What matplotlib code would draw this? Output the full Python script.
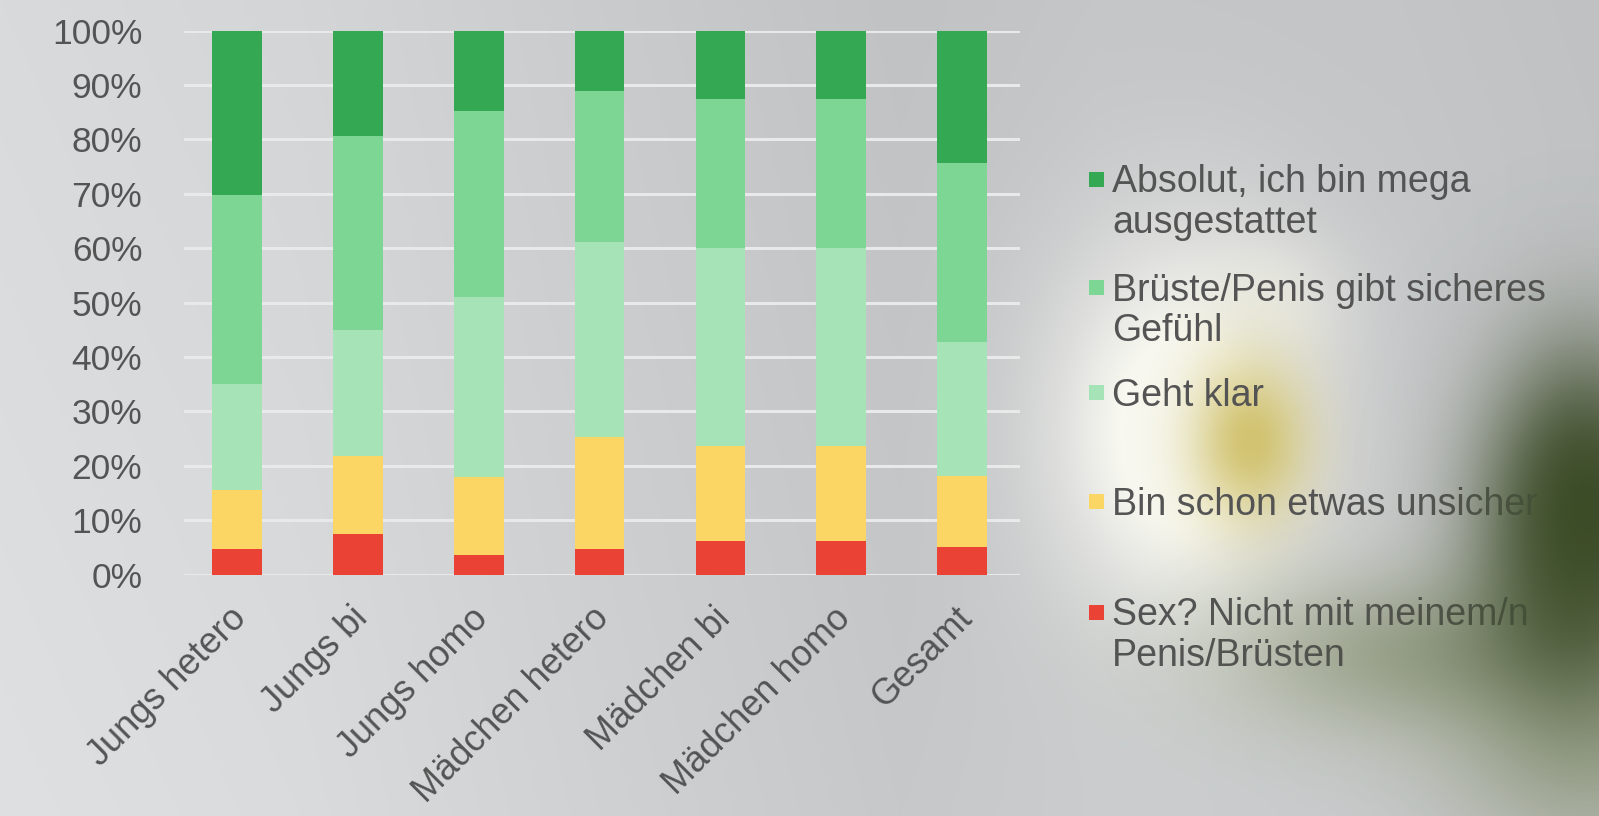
import numpy as np
import matplotlib
matplotlib.use("Agg")
import matplotlib.pyplot as plt
from matplotlib.patches import Rectangle
from matplotlib.transforms import ScaledTranslation

# ---------------- data ----------------
categories = ["Jungs hetero", "Jungs bi", "Jungs homo", "Mädchen hetero",
              "Mädchen bi", "Mädchen homo", "Gesamt"]
series_labels = ["Absolut, ich bin mega\nausgestattet",
                 "Brüste/Penis gibt sicheres\nGefühl",
                 "Geht klar",
                 "Bin schon etwas unsicher",
                 "Sex? Nicht mit meinem/n\nPenis/Brüsten"]
sex_nicht = [4.6, 7.4, 3.5, 4.6, 6.1, 6.1, 5.1]
unsicher = [10.9, 14.3, 14.4, 20.6, 17.6, 17.6, 13.0]
geht_klar = [19.5, 23.3, 33.2, 35.9, 36.3, 36.3, 24.6]
sicheres = [34.8, 35.7, 34.2, 27.8, 27.5, 27.5, 32.9]
absolut = [30.2, 19.3, 14.7, 11.1, 12.5, 12.5, 24.4]
y_ticks = [0, 10, 20, 30, 40, 50, 60, 70, 80, 90, 100]

colors = {"absolut": "#34a853", "sicheres": "#7dd693", "geht": "#a6e4b7",
          "unsicher": "#fcd665", "nicht": "#ea4335"}
text_col = "#545454"

plt.rcParams['font.family'] = ['Liberation Sans', 'DejaVu Sans']

W, H = 1599, 816
fig = plt.figure(figsize=(W / 100, H / 100), dpi=100)

# ---------------- background (decorative photo-like gradient) ----------------
xx, yy = np.meshgrid(np.arange(W), np.arange(H))
base = np.interp(xx, [0, 300, 600, 900, 1100, 1400, 1599],
                 [219, 214, 204, 195, 199, 198, 194]).astype(float)
base += 6 * (yy / H)
bg = np.stack([base - 3, base - 1, base + 1], axis=-1)

def blob(cx, cy, sx, sy):
    return np.exp(-(((xx - cx) / sx) ** 2 + ((yy - cy) / sy) ** 2) / 2)

def mix(img, color, w):
    c = np.array(color, float)
    return img * (1 - w[..., None]) + c * w[..., None]

bg = mix(bg, (250, 250, 243), 0.97 * np.clip(1.3 * blob(1185, 430, 90, 130), 0, 1))
bg = mix(bg, (238, 238, 228), 0.6 * blob(1270, 300, 50, 45))
bg = mix(bg, (200, 182, 80), 0.8 * blob(1250, 440, 42, 58))
bg = mix(bg, (160, 172, 125), 0.35 * blob(1380, 660, 140, 60))
bg = mix(bg, (120, 135, 85), 0.4 * blob(1590, 740, 110, 90))
bg = mix(bg, (45, 60, 25), 0.92 * blob(1585, 510, 55, 100))
bg = np.clip(bg, 0, 255) / 255.0

bg_ax = fig.add_axes([0, 0, 1, 1], zorder=0)
bg_ax.imshow(bg, aspect='auto', extent=(0, W, H, 0), interpolation='bilinear')
bg_ax.set_xlim(0, W)
bg_ax.set_ylim(H, 0)
bg_ax.axis('off')

# ---------------- main chart ----------------
ax = fig.add_axes([184 / W, 1 - 574.5 / H, (1020 - 184) / W, (574.5 - 30.6) / H], zorder=2)
ax.patch.set_alpha(0)
x = np.arange(len(categories))
bw = 0.41
stack = [(sex_nicht, colors["nicht"]), (unsicher, colors["unsicher"]),
         (geht_klar, colors["geht"]), (sicheres, colors["sicheres"]),
         (absolut, colors["absolut"])]
bottom = np.zeros(len(categories))
for vals, col in stack:
    ax.bar(x, vals, bw, bottom=bottom, color=col, linewidth=0, zorder=3)
    bottom += np.array(vals)

ax.set_xlim(-0.44, 6.48)
ax.set_ylim(0, 100)
ax.set_yticks(y_ticks)
ax.set_yticklabels([f"{v}%" for v in y_ticks], fontsize=25.5, color=text_col)
ax.yaxis.grid(True, color="#e9e9e9", linewidth=2.2, zorder=1)
ax.set_axisbelow(True)
for s in ax.spines.values():
    s.set_visible(False)
ax.tick_params(axis='both', length=0)
ax.tick_params(axis='y', pad=30)
ax.set_xticks(x)
ax.set_xticklabels(categories, rotation=45, ha='right', va='top',
                   rotation_mode='anchor', fontsize=26, color=text_col)
ax.tick_params(axis='x', pad=19)
shift = ScaledTranslation(-8 / 100, 0, fig.dpi_scale_trans)
for lbl in ax.get_xticklabels():
    lbl.set_transform(lbl.get_transform() + shift)

# ---------------- legend (manual, to match layout) ----------------
leg_colors = [colors["absolut"], colors["sicheres"], colors["geht"],
              colors["unsicher"], colors["nicht"]]
leg_y = [179.5, 287.6, 392.7, 501.8, 612.0]
for lab, col, yc in zip(series_labels, leg_colors, leg_y):
    sq = 15
    fig.patches.append(Rectangle(((1096 - sq / 2) / W, 1 - (yc + sq / 2) / H),
                                 sq / W, sq / H, transform=fig.transFigure,
                                 facecolor=col, edgecolor='none', zorder=3))
    fig.text(1112 / W, 1 - (yc - 15) / H, lab, fontsize=27, color=text_col,
             ha='left', va='top', linespacing=1.17, zorder=3)

# ---------------- overlay blur on the right (decorative) ----------------
ov = np.zeros((H, W, 4))
ov[..., 0] = 62 / 255
ov[..., 1] = 78 / 255
ov[..., 2] = 40 / 255
a = 0.8 * blob(1575, 540, 75, 120) + 0.25 * blob(1420, 650, 110, 50)
ov[..., 3] = np.clip(a, 0, 0.85)
ov_ax = fig.add_axes([0, 0, 1, 1], zorder=5)
ov_ax.imshow(ov, aspect='auto', extent=(0, W, H, 0), interpolation='bilinear')
ov_ax.set_xlim(0, W)
ov_ax.set_ylim(H, 0)
ov_ax.axis('off')

fig.savefig("out.png", dpi=100)
